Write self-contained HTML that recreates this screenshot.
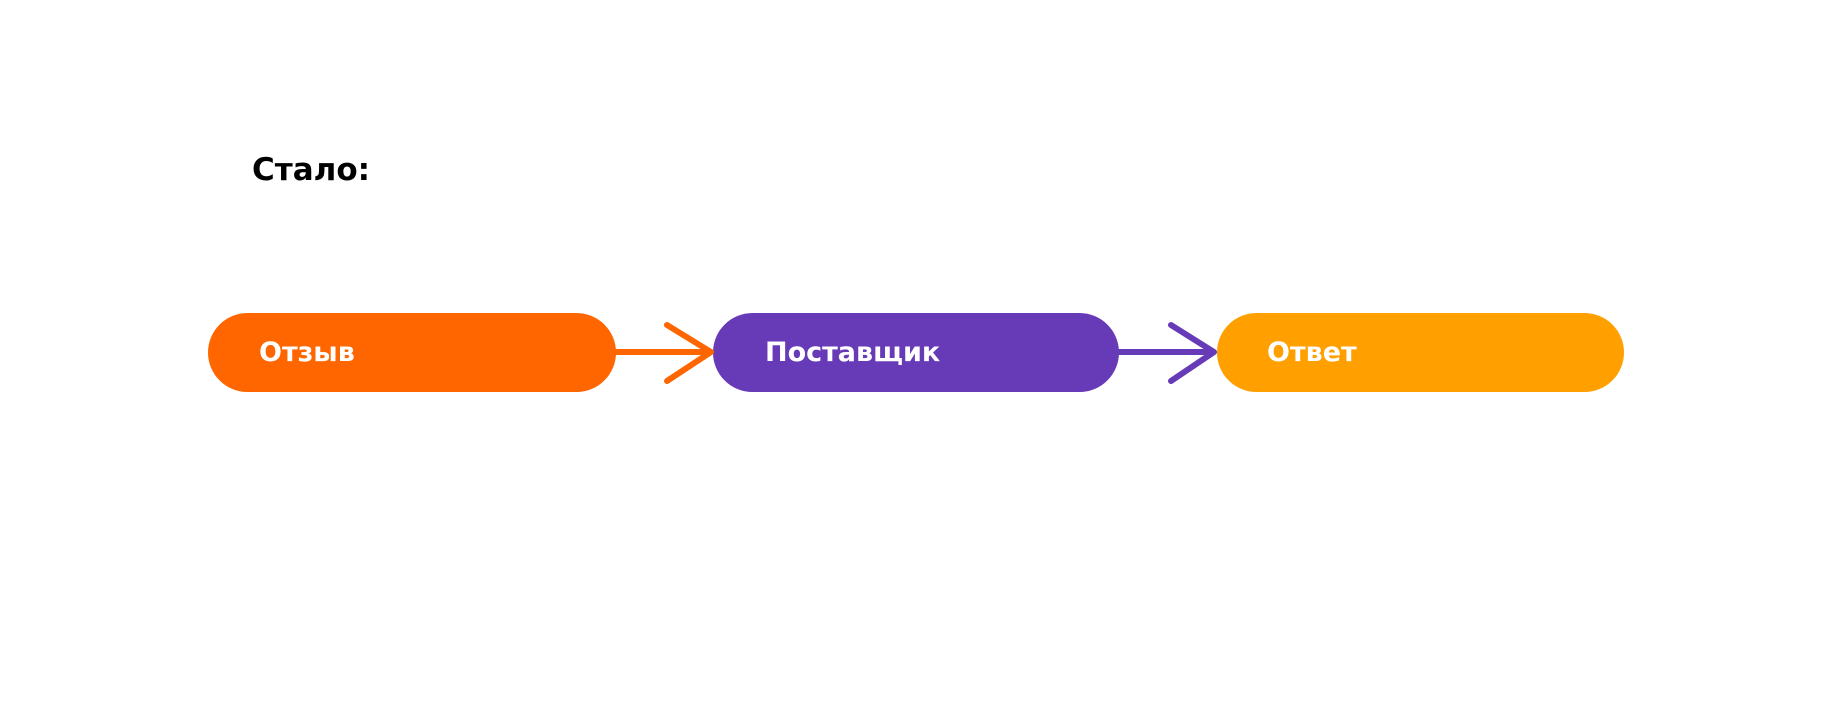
<!DOCTYPE html>
<html><head><meta charset="utf-8"><style>
html,body{margin:0;padding:0;background:#fff;width:1848px;height:723px;overflow:hidden;position:relative;font-family:"DejaVu Sans","Liberation Sans",sans-serif;}
.t{position:absolute;font-weight:bold;}
.b{position:absolute;top:313px;height:79px;border-radius:39.5px;}
.l{position:absolute;top:0;line-height:79px;color:#fff;font-weight:bold;font-size:27px;}
</style></head><body>
<div class="t" style="left:252px;top:150px;font-size:31px;color:#000;line-height:40px;">Стало:</div>
<div class="b" style="left:208px;width:408px;background:#FF6600;"><span class="l" style="left:51px">Отзыв</span></div>
<div class="b" style="left:713px;width:406px;background:#673AB7;"><span class="l" style="left:52px">Поставщик</span></div>
<div class="b" style="left:1217px;width:407px;background:#FFA000;"><span class="l" style="left:50px">Ответ</span></div>
<svg width="1848" height="723" style="position:absolute;left:0;top:0">
<g fill="none" stroke-width="6" stroke-linecap="round" stroke-linejoin="round">
<line x1="614" y1="352" x2="710" y2="352" stroke="#FF6600"/>
<polyline points="667,325 711,352 667,381" stroke="#FF6600"/>
<line x1="1117" y1="352" x2="1213" y2="352" stroke="#673AB7"/>
<polyline points="1171,325 1214,352 1171,381" stroke="#673AB7"/>
</g></svg>
</body></html>
